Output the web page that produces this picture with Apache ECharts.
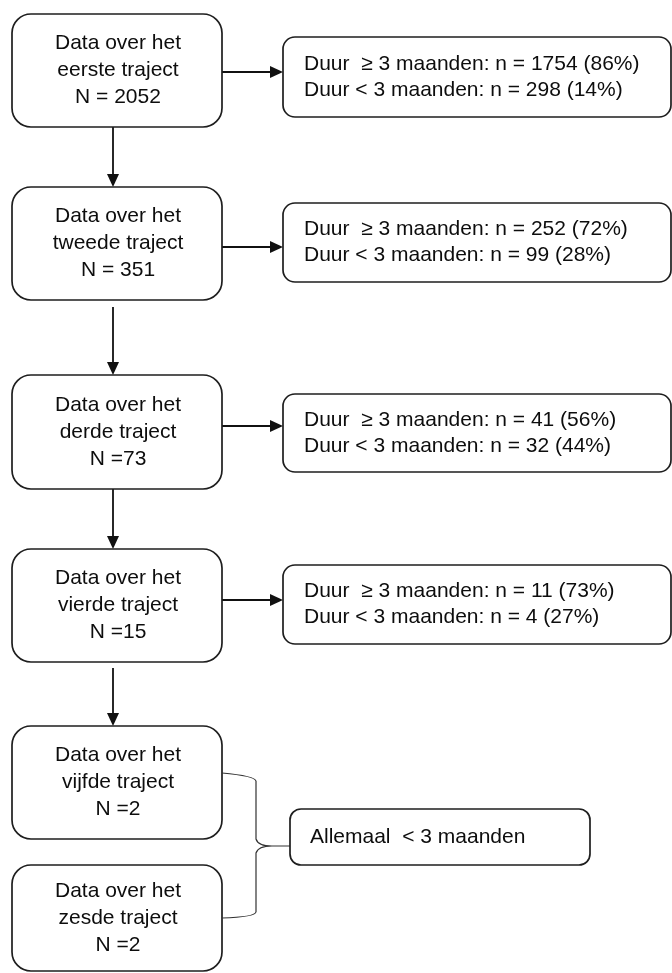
<!DOCTYPE html>
<html>
<head>
<meta charset="utf-8">
<script src="https://cdn.jsdelivr.net/npm/echarts@6/dist/echarts.min.js"></script>
<style>
html,body{margin:0;padding:0;background:#fff;}
#chart{width:672px;height:973px;}
</style>
</head>
<body>
<div id="chart"></div>
<script>
// ---- data ----
const trajectNames = ['eerste', 'tweede', 'derde', 'vierde', 'vijfde', 'zesde'];
const nTotals = [2052, 351, 73, 15, 2, 2];
const durLong = [1754, 252, 41, 11];
const durShort = [298, 99, 32, 4];
const pctLong = [86, 72, 56, 73];
const pctShort = [14, 28, 44, 27];
const finalLabel = 'Allemaal  < 3 maanden';

// ---- layout (diagram geometry) ----
const LEFT_X0 = 12, LEFT_X1 = 222;
const leftTop = [14, 187, 375, 549, 726, 865];
const leftBottom = [127, 300, 489, 662, 839, 971];
const RIGHT_X0 = 283, RIGHT_X1 = 671;
const rightTop = [37, 203, 394, 565];
const rightBottom = [117, 282, 472, 644];
const hArrowY = [72, 247, 426, 600];
const V_X = 113;
const vArrowFrom = [127, 307, 489, 668];
const vArrowTo = [187, 375, 549, 726];
const FINAL = {x0: 290, x1: 590, y0: 809, y1: 865};

const FONT = 'Liberation Sans, Arial, sans-serif';
const FS = 21;
const TXT = '#0d0d0d';
const STROKE = '#1e1e1e';

function nLabel(i) { return (i < 2 ? 'N = ' : 'N =') + nTotals[i]; }

function textEl(x, y, str, align) {
  return {type: 'text', style: {x: x, y: y, text: str, fill: TXT, fontSize: FS, fontFamily: FONT,
    align: align, verticalAlign: 'middle'}};
}

function renderLeft(params, api) {
  const i = params.dataIndex;
  const a = api.coord([LEFT_X0, leftTop[i]]);
  const b = api.coord([LEFT_X1, leftBottom[i]]);
  const cx = (a[0] + b[0]) / 2, cy = (a[1] + b[1]) / 2;
  const lines = ['Data over het', trajectNames[i] + ' traject', nLabel(i)];
  const children = [{type: 'rect', shape: {x: a[0], y: a[1], width: b[0] - a[0], height: b[1] - a[1], r: 19},
    style: {fill: '#fff', stroke: STROKE, lineWidth: 1.7}}];
  lines.forEach((t, k) => children.push(textEl(cx + 1, cy + (k - 1) * 27, t, 'center')));
  return {type: 'group', children: children};
}

function renderRight(params, api) {
  const i = params.dataIndex;
  const a = api.coord([RIGHT_X0, rightTop[i]]);
  const b = api.coord([RIGHT_X1, rightBottom[i]]);
  const cy = (a[1] + b[1]) / 2;
  const l1 = 'Duur  \u2265 3 maanden: n = ' + durLong[i] + ' (' + pctLong[i] + '%)';
  const l2 = 'Duur < 3 maanden: n = ' + durShort[i] + ' (' + pctShort[i] + '%)';
  return {type: 'group', children: [
    {type: 'rect', shape: {x: a[0], y: a[1], width: b[0] - a[0], height: b[1] - a[1], r: 12},
      style: {fill: '#fff', stroke: STROKE, lineWidth: 1.7}},
    textEl(a[0] + 21, cy - 13, l1, 'left'),
    textEl(a[0] + 21, cy + 13, l2, 'left')
  ]};
}

function arrow(p, q) {
  const dx = q[0] - p[0], dy = q[1] - p[1];
  const len = Math.sqrt(dx * dx + dy * dy);
  const ux = dx / len, uy = dy / len;
  const hl = 13, hw = 6;
  const base = [q[0] - ux * hl, q[1] - uy * hl];
  return [
    {type: 'line', shape: {x1: p[0], y1: p[1], x2: base[0], y2: base[1]}, style: {stroke: '#111', lineWidth: 1.8}},
    {type: 'polygon', shape: {points: [q, [base[0] - uy * hw, base[1] + ux * hw], [base[0] + uy * hw, base[1] - ux * hw]]},
      style: {fill: '#111'}}
  ];
}

function renderHArrow(params, api) {
  const i = params.dataIndex;
  return {type: 'group', children: arrow(api.coord([LEFT_X1, hArrowY[i]]), api.coord([RIGHT_X0, hArrowY[i]]))};
}

function renderVArrow(params, api) {
  const i = params.dataIndex;
  return {type: 'group', children: arrow(api.coord([V_X, vArrowFrom[i]]), api.coord([V_X, vArrowTo[i]]))};
}

function renderFinal(params, api) {
  const a = api.coord([FINAL.x0, FINAL.y0]);
  const b = api.coord([FINAL.x1, FINAL.y1]);
  // curly brace joining box 5 and box 6 to the final box
  const p = (x, y) => api.coord([x, y]);
  const t0 = p(LEFT_X1, 773), t1 = p(255, 776), t2 = p(256, 781);
  const m0 = p(256, 839), m1 = p(258, 846), m2 = p(272, 846), m3 = p(FINAL.x0, 846);
  const n1 = p(258, 846), n0 = p(256, 853);
  const bt = p(256, 912), b1 = p(255, 917), b0 = p(LEFT_X1, 918);
  const path = 'M' + t0 + ' Q' + t1 + ' ' + t2 + ' L' + m0 + ' Q' + m1 + ' ' + m2 + ' L' + m3 +
    ' M' + m2 + ' Q' + n1 + ' ' + n0 + ' L' + bt + ' Q' + b1 + ' ' + b0;
  return {type: 'group', children: [
    {type: 'path', shape: {pathData: path.replace(/,/g, ' ')}, style: {fill: 'none', stroke: '#333', lineWidth: 1.2}},
    {type: 'rect', shape: {x: a[0], y: a[1], width: b[0] - a[0], height: b[1] - a[1], r: 11},
      style: {fill: '#fff', stroke: STROKE, lineWidth: 1.7}},
    textEl(a[0] + 20, (a[1] + b[1]) / 2, finalLabel, 'left')
  ]};
}

const chart = echarts.init(document.getElementById('chart'), null, {renderer: 'canvas'});
chart.setOption({
  backgroundColor: '#fff',
  animation: false,
  grid: {left: 0, right: 0, top: 0, bottom: 0},
  xAxis: {type: 'value', min: 0, max: 672, show: false},
  yAxis: {type: 'value', min: 0, max: 973, inverse: true, show: false},
  series: [
    {type: 'custom', clip: false, renderItem: renderVArrow, data: vArrowFrom.map((v, i) => [V_X, v])},
    {type: 'custom', clip: false, renderItem: renderHArrow, data: durLong.map((v, i) => [i, v])},
    {type: 'custom', clip: false, renderItem: renderLeft, data: nTotals.map((v, i) => [i, v])},
    {type: 'custom', clip: false, renderItem: renderRight, data: durLong.map((v, i) => [i, v, durShort[i]])},
    {type: 'custom', clip: false, renderItem: renderFinal, data: [[0, 0]]}
  ]
});
</script>
</body>
</html>
